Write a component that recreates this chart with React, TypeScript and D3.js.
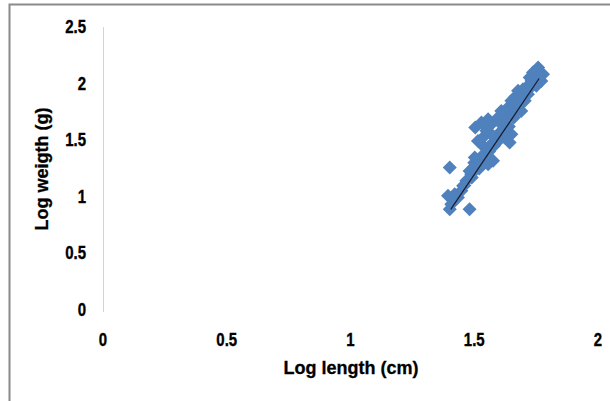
import React from "react";
import * as d3 from "d3";

const logLength: number[] = [
  1.401, 1.407, 1.394, 1.421, 1.481, 1.401, 1.448, 1.468, 1.488, 1.502,
  1.481, 1.515, 1.529, 1.556, 1.576, 1.542, 1.515, 1.535, 1.556, 1.504,
  1.529, 1.556, 1.643, 1.623, 1.650, 1.569, 1.589, 1.609, 1.623, 1.596,
  1.582, 1.569, 1.609, 1.636, 1.650, 1.663, 1.677, 1.670, 1.717, 1.704,
  1.690, 1.710, 1.731, 1.744, 1.758, 1.771, 1.778, 1.751, 1.724, 1.697,
  1.657, 1.434, 1.455, 1.502, 1.549, 1.630, 1.683, 1.737,
  1.460, 1.490, 1.520, 1.530, 1.540, 1.560, 1.580, 1.600, 1.610, 1.640,
  1.660, 1.680, 1.700, 1.720, 1.740, 1.760, 1.500, 1.570, 1.620,
];
const logWeight: number[] = [
  0.891, 0.935, 1.009, 1.023, 0.891, 1.259, 1.053, 1.141, 1.200, 1.259,
  1.229, 1.288, 1.347, 1.288, 1.318, 1.435, 1.494, 1.524, 1.435, 1.612,
  1.656, 1.686, 1.480, 1.524, 1.553, 1.642, 1.686, 1.642, 1.701, 1.553,
  1.524, 1.465, 1.759, 1.789, 1.848, 1.877, 1.936, 1.818, 1.907, 1.848,
  1.759, 1.966, 2.024, 2.069, 2.142, 2.024, 2.083, 1.980, 2.054, 1.951,
  1.730, 0.994, 1.097, 1.347, 1.583, 1.627, 1.877, 2.098,
  1.100, 1.170, 1.250, 1.300, 1.380, 1.400, 1.450, 1.500, 1.580, 1.620,
  1.700, 1.800, 1.880, 1.950, 1.990, 2.060, 1.300, 1.550, 1.580,
];
const trendX: number[] = [1.405, 1.762];
const trendSlope = 3.24;
const trendIntercept = -3.664;

const xTicks: string[] = ["0", "0.5", "1", "1.5", "2"];
const yTicks: string[] = ["0", "0.5", "1", "1.5", "2", "2.5"];
const xTitle = "Log length (cm)";
const yTitle = "Log weigth (g)";

export default function App() {
  const W = 610, H = 401;
  const x = d3.scaleLinear().domain([0, 2]).range([103, 598]);
  const y = d3.scaleLinear().domain([0, 2.5]).range([310, 27]);
  const diamond = "M0,-7L7,0L0,7L-7,0Z";
  const line = d3.line<number>().x((v) => x(v)).y((v) => y(trendSlope * v + trendIntercept));
  const font = "'Liberation Sans', Arial, sans-serif";
  return (
    <svg width={W} height={H} style={{ position: "absolute", left: 0, top: 0, background: "#fff" }}>
      <rect x={9.5} y={4.5} width={W + 20} height={H + 20} fill="#fff" stroke="#8a8a8a" strokeWidth={2} />
      <line x1={x(0) + 0.5} x2={x(0) + 0.5} y1={y(2.5)} y2={y(0) + 2} stroke="#d4d4d4" strokeWidth={1} />
      {yTicks.map((t) => (
        <text key={"y" + t} x={86} y={y(+t)} textAnchor="end" dominantBaseline="central"
          fontFamily={font} fontWeight="bold" fontSize={15} fill="#000" stroke="#000" strokeWidth={0.3}
          transform={`translate(0,${y(+t)}) scale(1,1.2) translate(0,${-y(+t)})`}>{t}</text>
      ))}
      {xTicks.map((t) => (
        <text key={"x" + t} x={x(+t)} y={340} textAnchor="middle" dominantBaseline="central"
          fontFamily={font} fontWeight="bold" fontSize={15} fill="#000" stroke="#000" strokeWidth={0.3}
          transform={`translate(0,340) scale(1,1.2) translate(0,-340)`}>{t}</text>
      ))}
      <text x={351} y={368} textAnchor="middle" dominantBaseline="central"
        fontFamily={font} fontWeight="bold" fontSize={18} fill="#000" stroke="#000" strokeWidth={0.3}>{xTitle}</text>
      <text transform={`translate(42,169) rotate(-90)`} textAnchor="middle" dominantBaseline="central"
        fontFamily={font} fontWeight="bold" fontSize={18} fill="#000" stroke="#000" strokeWidth={0.3}>{yTitle}</text>
      {logLength.map((lx, i) => (
        <path key={i} d={diamond} transform={`translate(${x(lx)},${y(logWeight[i])})`} fill="#4F81BD" />
      ))}
      <path d={line(trendX) || ""} fill="none" stroke="#1a1a2a" strokeWidth={1.2} />
    </svg>
  );
}
